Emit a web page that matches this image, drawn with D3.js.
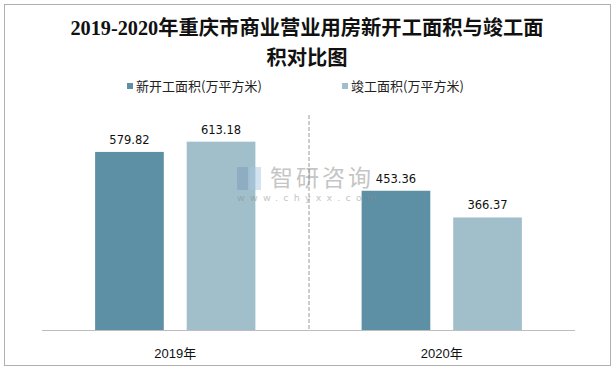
<!DOCTYPE html>
<html>
<head>
<meta charset="utf-8">
<script src="https://cdn.jsdelivr.net/npm/d3@7"></script>
<style>
  body { margin: 0; background: #fff; }
  svg { display: block; }
</style>
</head>
<body>
<svg id="chart" width="615" height="370"></svg>
<script>
// data
const years = ['2019年', '2020年'];
const seriesNames = ['新开工面积(万平方米)', '竣工面积(万平方米)'];
const newStarts = [579.82, 453.36];
const completed = [613.18, 366.37];
const colors = ['#5d8fa5', '#a1bfcb'];

const svg = d3.select('#chart');
const W = 615, H = 370;

// outer frame
svg.append('rect')
  .attr('x', 4.5).attr('y', 4.5)
  .attr('width', W - 9).attr('height', H - 9)
  .attr('fill', '#fff').attr('stroke', '#b0b0b0');

// title, two lines
const title = svg.append('text')
  .attr('text-anchor', 'middle')
  .attr('font-family', '"Liberation Serif", "Noto Sans CJK SC", serif')
  .attr('font-weight', 'bold')
  .attr('font-size', 20.3)
  .attr('fill', '#111');
title.append('tspan').attr('x', 307).attr('y', 35).text('2019-2020年重庆市商业营业用房新开工面积与竣工面');
title.append('tspan').attr('x', 307).attr('y', 65).text('积对比图');

// legend
const legendX = [127, 342];
const legend = svg.append('g').attr('font-family', '"Noto Sans CJK SC", sans-serif').attr('font-size', 13);
seriesNames.forEach((name, i) => {
  legend.append('rect')
    .attr('x', legendX[i]).attr('y', 83)
    .attr('width', 6).attr('height', 6)
    .attr('fill', colors[i]);
  legend.append('text')
    .attr('x', legendX[i] + 9).attr('y', 91)
    .attr('fill', '#222')
    .text(name);
});

// scales
const plot = {left: 42, right: 575, top: 115, bottom: 330};
const x0 = d3.scaleBand().domain(years).range([plot.left, plot.right]);
const x1 = d3.scaleBand().domain(d3.range(seriesNames.length))
  .range([0, x0.bandwidth()]).paddingInner(0.25).paddingOuter(0.58);
const y = d3.scaleLinear().domain([0, 700]).range([plot.bottom, plot.top]);

// dashed separator between categories
svg.append('line')
  .attr('x1', x0(years[1]) + 0.5).attr('x2', x0(years[1]) + 0.5)
  .attr('y1', plot.top).attr('y2', plot.bottom)
  .attr('stroke', '#bdbdbd').attr('stroke-width', 1.5)
  .attr('stroke-dasharray', '4,2');

// bars
const rows = years.map((yr, i) => ({year: yr, vals: [newStarts[i], completed[i]]}));
const groups = svg.selectAll('.grp')
  .data(rows)
  .enter().append('g')
  .attr('class', 'grp')
  .attr('transform', d => `translate(${x0(d.year)},0)`);

groups.selectAll('rect')
  .data(d => d.vals)
  .enter().append('rect')
  .attr('x', (d, i) => x1(i))
  .attr('y', d => y(d))
  .attr('width', x1.bandwidth())
  .attr('height', d => y(0) - y(d))
  .attr('fill', (d, i) => colors[i]);

// watermark, drawn over the bars like in the source
const wm = svg.append('g').attr('opacity', 0.5);
wm.append('rect').attr('x', 237).attr('y', 167).attr('width', 11).attr('height', 23).attr('fill', '#7f9dba');
wm.append('rect').attr('x', 250).attr('y', 167).attr('width', 11).attr('height', 23).attr('fill', '#a8c8e2');
wm.append('text')
  .attr('x', 270).attr('y', 186)
  .attr('font-family', '"Noto Sans CJK SC", sans-serif')
  .attr('font-size', 23)
  .attr('fill', '#8c8c8c')
  .attr('letter-spacing', 3)
  .text('智研咨询');
wm.append('text')
  .attr('x', 237).attr('y', 201)
  .attr('font-family', '"DejaVu Sans", sans-serif')
  .attr('font-size', 9.5)
  .attr('fill', '#8c8c8c')
  .attr('letter-spacing', 5.2)
  .text('www.chyxx.com');

groups.selectAll('.lbl')
  .data(d => d.vals)
  .enter().append('text')
  .attr('class', 'lbl')
  .attr('x', (d, i) => x1(i) + x1.bandwidth() / 2)
  .attr('y', d => y(d) - 8)
  .attr('text-anchor', 'middle')
  .attr('font-family', '"DejaVu Sans", sans-serif')
  .attr('font-size', 11.5)
  .attr('fill', '#111')
  .text(d => d.toFixed(2));

// x axis line + category labels
svg.append('line')
  .attr('x1', plot.left).attr('x2', plot.right)
  .attr('y1', plot.bottom + 0.5).attr('y2', plot.bottom + 0.5)
  .attr('stroke', '#bdbdbd');

svg.selectAll('.cat')
  .data(years)
  .enter().append('text')
  .attr('class', 'cat')
  .attr('x', d => x0(d) + x0.bandwidth() / 2)
  .attr('y', 358)
  .attr('text-anchor', 'middle')
  .attr('font-family', '"Liberation Sans", "Noto Sans CJK SC", sans-serif')
  .attr('font-size', 13)
  .attr('fill', '#111')
  .text(d => d);
</script>
</body>
</html>
